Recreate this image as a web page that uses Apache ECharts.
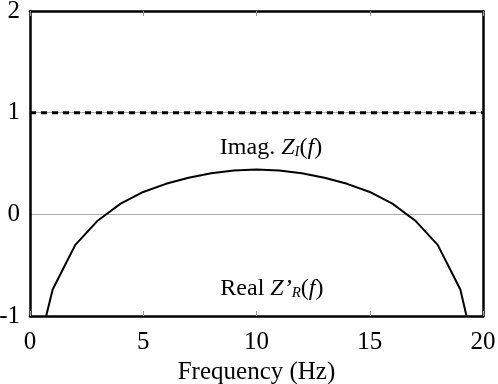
<!DOCTYPE html>
<html>
<head>
<meta charset="utf-8">
<script src="https://cdn.jsdelivr.net/npm/echarts@6/dist/echarts.min.js"></script>
<style>
  html, body { margin: 0; padding: 0; background: #fff; }
  #chart { width: 498px; height: 384px; }
</style>
</head>
<body>
<div id="chart"></div>
<script>
// frequency samples (Hz) and curve values
const freqs = [0, 1, 2, 3, 4, 5, 6, 7, 8, 9, 10, 11, 12, 13, 14, 15, 16, 17, 18, 19, 20]
const curveValues = [-1.65, -0.74, -0.30, -0.06, 0.105, 0.22, 0.30, 0.36, 0.405, 0.43, 0.44,
  0.43, 0.405, 0.36, 0.30, 0.22, 0.105, -0.06, -0.30, -0.74, -1.7]
const dashedLevel = 1
const xTicks = [0, 5, 10, 15, 20]
const yTicks = [-1, 0, 1, 2]
const imagLabelAt = [10.64, 0.66]
const realLabelAt = [10.68, -0.73]

const serif = "'Liberation Serif', 'Times New Roman', serif"

const chart = echarts.init(document.getElementById('chart'))

const richText = {
  n: { fontFamily: serif, fontSize: 24, color: '#000' },
  i: { fontFamily: serif, fontSize: 24, fontStyle: 'italic', color: '#000' },
  s: { fontFamily: serif, fontSize: 15, fontStyle: 'italic', color: '#000', verticalAlign: 'bottom', padding: [9, 0, 0, 0] },
}

const frame = { show: true, onZero: false, lineStyle: { color: '#000', width: 2.5 } }
const innerTick = { show: true, inside: true, length: 5, lineStyle: { color: '#999', width: 1 } }

chart.setOption({
  animation: false,
  grid: { left: 30, right: 15, top: 11, bottom: 68, outerBoundsMode: 'none', containLabel: false },
  xAxis: [
    {
      type: 'value', min: 0, max: 20, interval: 5, position: 'bottom',
      axisLine: frame, axisTick: innerTick, splitLine: { show: false },
      axisLabel: { fontFamily: serif, fontSize: 25, color: '#000', margin: 14 },
      name: 'Frequency (Hz)', nameLocation: 'middle', nameGap: 42,
      nameTextStyle: { fontFamily: serif, fontSize: 25, color: '#000' },
    },
    {
      type: 'value', min: 0, max: 20, interval: 5, position: 'top',
      axisLine: frame, axisTick: innerTick, splitLine: { show: false },
      axisLabel: { show: false },
    },
  ],
  yAxis: [
    {
      type: 'value', min: -1, max: 2, interval: 1, position: 'left',
      axisLine: frame, axisTick: { show: false },
      splitLine: { show: true, lineStyle: { color: '#aaa', width: 1 } },
      axisLabel: { fontFamily: serif, fontSize: 25, color: '#000', margin: 10 },
    },
    {
      type: 'value', min: -1, max: 2, interval: 1, position: 'right',
      axisLine: frame, axisTick: { show: false }, splitLine: { show: false },
      axisLabel: { show: false },
    },
  ],
  series: [
    {
      type: 'line',
      data: [[xTicks[0], dashedLevel], [xTicks[xTicks.length - 1], dashedLevel]],
      symbol: 'none',
      lineStyle: { color: '#000', width: 3, type: [6, 5] },
      z: 3,
    },
    {
      type: 'line',
      data: freqs.map((f, k) => [f, curveValues[k]]),
      symbol: 'none',
      clip: true,
      lineStyle: { color: '#000', width: 2 },
      z: 3,
      markPoint: {
        symbol: 'circle', symbolSize: 0,
        label: { show: true, position: 'inside', rich: richText },
        data: [
          { coord: imagLabelAt, label: { formatter: '{n|Imag. }{i|Z}{s|I}{n|(}{i|f}{n|)}' } },
          { coord: realLabelAt, label: { formatter: '{n|Real }{i|Z\u2019}{s|R}{n|(}{i|f}{n|)}' } },
        ],
      },
    },
  ],
})
</script>
</body>
</html>
